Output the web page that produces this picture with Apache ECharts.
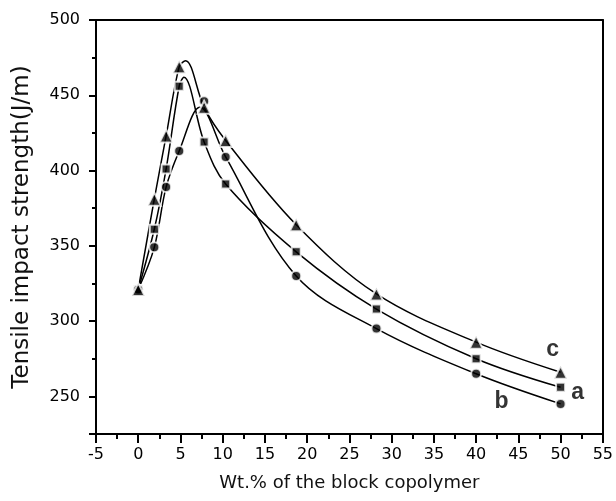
<!DOCTYPE html>
<html>
<head>
<meta charset="utf-8">
<script src="https://cdn.jsdelivr.net/npm/echarts@6/dist/echarts.min.js"></script>
<style>
  html, body { margin: 0; padding: 0; background: #fff; }
  #chart { width: 616px; height: 501px; }
</style>
</head>
<body>
<div id="chart"></div>
<script>
// measured points (Wt.% copolymer vs impact strength J/m)
const xPts = [0, 1.9, 3.3, 4.85, 7.8, 10.35, 18.7, 28.2, 40, 50];
const yA = [321, 361, 401, 456, 419, 391, 346, 308, 275, 256];
const yB = [321, 349, 389, 413, 446, 409, 330, 295, 265, 245];
const yC = [321, 381, 423, 469, 442, 420, 364, 318, 286, 266];

// fitted curves as drawn in the figure
const curveAx = [0, 1.9, 3.3, 4.85, 5.4, 7.8, 10.35, 18.7, 28.2, 40, 50];
const curveAy = [321, 361, 401, 456, 462, 419, 391, 346, 308, 275, 256];
const curveBx = [0, 1.9, 3.3, 4.85, 7.3, 10.35, 18.7, 28.2, 40, 50];
const curveBy = [321, 349, 389, 413, 442, 409, 330, 295, 265, 245];
const curveCx = [0, 1.9, 3.3, 4.85, 5.6, 7.8, 10.35, 18.7, 28.2, 40, 50];
const curveCy = [321, 381, 423, 469, 473, 442, 420, 364, 318, 286, 266];

const seriesLetters = ['a', 'b', 'c'];

const font = 'DejaVu Sans, sans-serif';
const boldFont = 'Liberation Sans, Arial, sans-serif';
const chart = echarts.init(document.getElementById('chart'));

function zip(xs, ys) {
  return xs.map((x, i) => [x, ys[i]]);
}

function markers(ys, letter, offset) {
  const last = xPts.length - 1;
  return xPts.map((x, i) => {
    if (i !== last) return [x, ys[i]];
    return {
      value: [x, ys[i]],
      label: {
        show: true,
        formatter: letter,
        position: 'inside',
        offset: offset,
        fontFamily: boldFont,
        fontWeight: 'bold',
        fontSize: 23,
        color: '#000'
      }
    };
  });
}

function curve(xs, ys) {
  return {
    type: 'line',
    data: zip(xs, ys),
    smooth: 0.35,
    showSymbol: false,
    symbol: 'none',
    lineStyle: { color: '#000', width: 1.5 },
    z: 2,
    silent: true
  };
}

function scatter(ys, letter, symbol, size, offset) {
  return {
    type: 'scatter',
    data: markers(ys, letter, offset),
    symbol: symbol,
    symbolSize: size,
    itemStyle: { color: '#000', borderColor: '#fff', borderWidth: 2 },
    z: 5
  };
}

const tickStyle = { color: '#000', width: 2 };

const option = {
  animation: false,
  backgroundColor: '#fff',
  grid: { left: 96, right: 12, top: 20, bottom: 67 },
  xAxis: [
    {
      type: 'value',
      min: -5,
      max: 55,
      interval: 5,
      name: 'Wt.% of the block copolymer',
      nameLocation: 'middle',
      nameGap: 40,
      nameTextStyle: { fontFamily: font, fontSize: 18, color: '#111' },
      axisLine: { onZero: false, lineStyle: tickStyle },
      axisTick: { length: 9, lineStyle: tickStyle },
      minorTick: { show: true, splitNumber: 2, length: 5, lineStyle: tickStyle },
      axisLabel: { margin: 13, fontFamily: font, fontSize: 16, color: '#000' },
      splitLine: { show: false }
    },
    {
      type: 'value',
      position: 'top',
      min: -5,
      max: 55,
      interval: 5,
      axisLine: { show: true, onZero: false, lineStyle: tickStyle },
      axisTick: { show: false },
      axisLabel: { show: false },
      splitLine: { show: false }
    }
  ],
  yAxis: [
    {
      type: 'value',
      position: 'left',
      min: 225,
      max: 500,
      name: 'Tensile impact strength(J/m)',
      nameLocation: 'middle',
      nameGap: 62,
      nameTextStyle: { fontFamily: font, fontSize: 23, color: '#111' },
      axisLine: { show: true, onZero: false, lineStyle: tickStyle },
      axisTick: { show: true, length: 7, lineStyle: tickStyle },
      axisLabel: {
        margin: 16,
        fontFamily: font,
        fontSize: 16,
        color: '#000',
        formatter: v => (v % 50 === 0 ? String(v) : '')
      },
      splitLine: { show: false }
    },
    {
      type: 'value',
      position: 'left',
      offset: 0,
      min: 225,
      max: 500,
      interval: 25,
      axisLine: { show: false, onZero: false },
      axisTick: { show: true, length: 4, lineStyle: tickStyle },
      axisLabel: { show: false },
      splitLine: { show: false }
    },
    {
      type: 'value',
      position: 'right',
      min: 225,
      max: 500,
      axisLine: { show: true, onZero: false, lineStyle: tickStyle },
      axisTick: { show: false },
      axisLabel: { show: false },
      splitLine: { show: false }
    }
  ],
  series: [
    curve(curveAx, curveAy),
    curve(curveBx, curveBy),
    curve(curveCx, curveCy),
    scatter(yA, seriesLetters[0], 'rect', 9, [17, 5]),
    scatter(yB, seriesLetters[1], 'circle', 10, [-59, -2]),
    scatter(yC, seriesLetters[2], 'triangle', 13, [-8, -23])
  ]
};

chart.setOption(option);
</script>
</body>
</html>
